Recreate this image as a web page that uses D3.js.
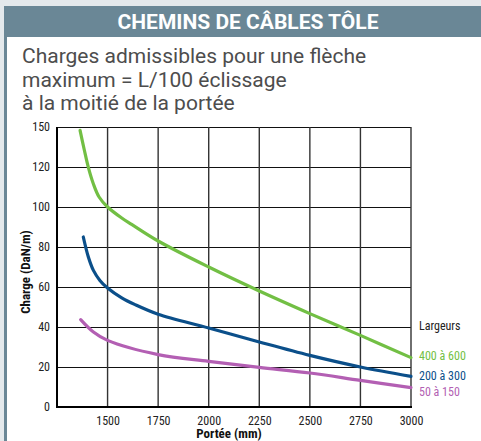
<!DOCTYPE html>
<html lang="fr">
  <head>
    <meta charset="utf-8">
    <script src="https://d3js.org/d3.v7.min.js"></script>
    <title>Chemins de câbles tôle</title>
    <style>
      body{margin:0;background:#e4e9ec;}
      svg{display:block;}
      .cond{font-family:"Roboto Condensed","Liberation Sans Narrow","DejaVu Sans Condensed",sans-serif;}
    </style>
  </head>
  <body>
    <script>

      // data

      var xTicks=[1500,1750,2000,2250,2500,2750,3000];
      var yTicks=[0,20,40,60,80,100,120,140];
      var yTickLabels=["0","20","40","60","80","100","120","150"];

      var span400=[1364,1385,1405,1430,1458,1500,1570,1619,1750,2000,2250,2500,2750,3000];
      var load400=[138.3,128.5,119.8,111.5,105,100,94.5,91.3,83,70,58,46.7,35.8,24.7];

      var span200=[1380,1405,1430,1462,1500,1570,1636,1750,2000,2250,2500,2750,3000];
      var load200=[85,75,68.3,63.3,59.5,54.6,51.2,46.4,39.5,32.5,25.8,20,15.3];

      var span50=[1367,1430,1500,1750,2000,2250,2500,2750,3000];
      var load50=[43.7,37.5,33.3,26.2,22.8,19.8,17,13.3,9.7];

      var seriesNames=["400 à 600","200 à 300","50 à 150"];
      var seriesColors=["#72bf44","#0b4f8a","#b35fb3"];

      var series=[
        {name:seriesNames[0],color:seriesColors[0],xs:span400,ys:load400},
        {name:seriesNames[1],color:seriesColors[1],xs:span200,ys:load200},
        {name:seriesNames[2],color:seriesColors[2],xs:span50,ys:load50}
      ];

      // SVG

      var width=481;
      var height=441;

      var svg=d3.select("body").append("svg").attr("width",width).attr("height",height);

      // frame + header
      svg.append("rect").attr("x",0).attr("y",0).attr("width",width).attr("height",height).attr("fill","#e4e9ec");
      svg.append("rect").attr("x",4).attr("y",6).attr("width",width-4).attr("height",height-6).attr("fill","#6a8796");
      svg.append("rect").attr("x",7).attr("y",37).attr("width",width-7).attr("height",height-37).attr("fill","#fff");

      svg.append("text").attr("x",248).attr("y",29).attr("text-anchor","middle")
        .style("font-family","Roboto, sans-serif").style("font-weight","bold").style("font-size","21px")
        .attr("fill","#fff").text("CHEMINS DE CÂBLES TÔLE");

      var sub=["Charges admissibles pour une flèche","maximum = L/100 éclissage","à la moitié de la portée"];
      svg.selectAll("text.sub").data(sub).enter().append("text").attr("class","sub")
        .attr("x",22).attr("y",function(d,i){return 63+i*23.5;})
        .style("font-family","Roboto, sans-serif").style("font-size","21px")
        .attr("fill","#4d4d4d").text(function(d){return d;});

      // scales

      var x=d3.scaleLinear().domain([1250,3000]).range([57,411]);
      var y=d3.scaleLinear().domain([0,140]).range([407,127]);

      // grid

      var grid=svg.append("g");
      grid.selectAll("line.h").data(yTicks.slice(1)).enter().append("line").attr("class","h")
        .attr("x1",x(1250)).attr("x2",x(3000))
        .attr("y1",function(d){return Math.round(y(d))+0.5;}).attr("y2",function(d){return Math.round(y(d))+0.5;})
        .attr("stroke","#111").attr("stroke-width",1.2);
      grid.selectAll("line.v").data(xTicks).enter().append("line").attr("class","v")
        .attr("y1",y(0)).attr("y2",y(140))
        .attr("x1",function(d){return x(d);}).attr("x2",function(d){return x(d);})
        .attr("stroke","#333").attr("stroke-width",1.4);

      // axes

      var xAxis=d3.axisBottom(x).tickValues(xTicks).tickSize(0).tickPadding(9).tickFormat(d3.format("d"));
      var gx=svg.append("g").attr("class","cond").attr("transform","translate(0,"+y(0)+")").call(xAxis);
      var yAxis=d3.axisLeft(y).tickValues(yTicks).tickSize(0).tickPadding(7)
        .tickFormat(function(d,i){return yTickLabels[i];});
      var gy=svg.append("g").attr("class","cond").attr("transform","translate("+x(1250)+",0)").call(yAxis);
      svg.selectAll("g.cond .domain").remove();
      svg.selectAll("g.cond text").style("font-size","12px").attr("fill","#222");

      svg.append("line").attr("x1",x(1250)).attr("x2",x(1250)).attr("y1",y(140)).attr("y2",y(0)+1)
        .attr("stroke","#000").attr("stroke-width",2);
      svg.append("line").attr("x1",x(1250)-1).attr("x2",x(3000)+1).attr("y1",y(0)).attr("y2",y(0))
        .attr("stroke","#000").attr("stroke-width",2);

      svg.append("text").attr("class","cond").attr("x",229).attr("y",438).attr("text-anchor","middle")
        .style("font-size","13px").style("font-weight","bold").attr("fill","#111").text("Portée (mm)");
      svg.append("text").attr("class","cond").attr("transform","translate(30,272) rotate(-90)").attr("text-anchor","middle")
        .style("font-size","13px").style("font-weight","bold").attr("fill","#111").text("Charge (DaN/m)");

      // curves

      var line=d3.line().x(function(d){return x(d[0]);}).y(function(d){return y(d[1]);}).curve(d3.curveCatmullRom.alpha(0.5));

      svg.selectAll("path.curve").data(series).enter().append("path").attr("class","curve")
        .attr("d",function(s){return line(d3.zip(s.xs,s.ys));})
        .attr("fill","none").attr("stroke",function(s){return s.color;})
        .attr("stroke-width",3.2).attr("stroke-linecap","round");

      // legend

      var legY=[356,376,392];
      svg.append("text").attr("class","cond").attr("x",419).attr("y",330)
        .style("font-size","12px").attr("fill","#222").text("Largeurs");
      svg.selectAll("text.leg").data(series).enter().append("text").attr("class","leg cond")
        .attr("x",419).attr("y",function(d,i){return legY[i]+4;})
        .style("font-size","12px").attr("fill",function(d){return d.color;})
        .text(function(d){return d.name;});

    </script>
  </body>
</html>
